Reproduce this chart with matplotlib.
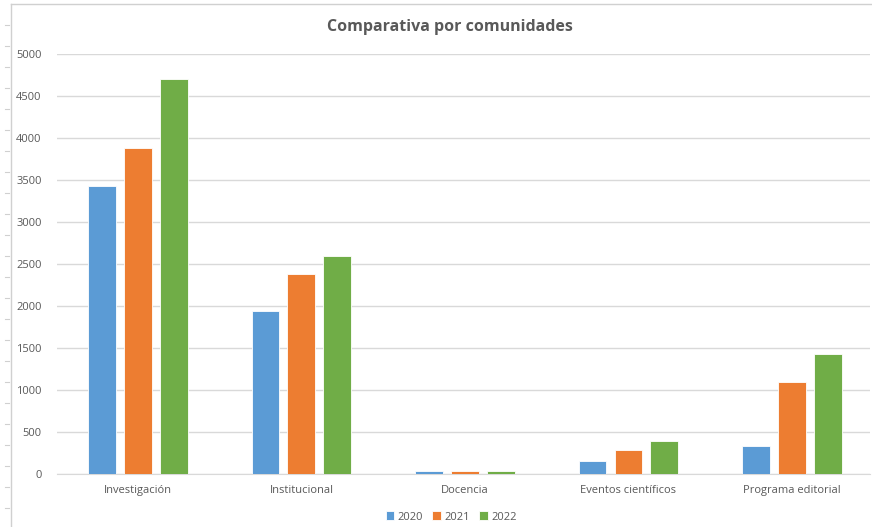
import numpy as np
import matplotlib.pyplot as plt
from matplotlib.lines import Line2D

# datos
categorias = ['Investigación', 'Institucional', 'Docencia',
              'Eventos científicos', 'Programa editorial']
anios = ['2020', '2021', '2022']
v2020 = [3430, 1940, 40, 160, 335]
v2021 = [3880, 2380, 40, 285, 1090]
v2022 = [4700, 2600, 40, 390, 1425]
colores = ['#5B9BD5', '#ED7D31', '#70AD47']
gris = '#595959'

plt.rcParams['font.family'] = ['Open Sans', 'DejaVu Sans']

fig = plt.figure(figsize=(8.72, 5.27), dpi=100, facecolor='w')
ax = fig.add_axes([57/872, 1 - 474/527, (870 - 57)/872, 420/527])

x = np.arange(len(categorias))
ancho = 0.171
paso = 0.22
for i, (serie, col) in enumerate(zip([v2020, v2021, v2022], colores)):
    ax.bar(x + (i - 1)*paso, serie, ancho, color=col, edgecolor='white',
           linewidth=0.6, label=anios[i], zorder=3)

ax.set_xlim(-0.495, 4.477)
ax.set_ylim(0, 5000)
ax.set_yticks(np.arange(0, 5001, 500))
ax.set_xticks(x)
ax.set_xticklabels(categorias)
ax.grid(axis='y', color='#d9d9d9', linewidth=1, zorder=0)
for s in ['top', 'right', 'left']:
    ax.spines[s].set_visible(False)
ax.spines['bottom'].set_color('#d9d9d9')
ax.tick_params(axis='both', length=0, colors=gris, labelsize=8)
ax.tick_params(axis='y', pad=11)
ax.tick_params(axis='x', pad=8)

fig.text(0.516, 1 - 27/527, 'Comparativa por comunidades', ha='center',
         va='center', fontsize=11.5, fontweight='bold', color=gris)

ax.legend(loc='center', bbox_to_anchor=(451/872, 1 - 517/527),
          bbox_transform=fig.transFigure, ncol=3, frameon=False,
          fontsize=8, handlelength=0.8, handleheight=0.8,
          handletextpad=0.3, columnspacing=0.8, labelcolor=gris)

# borde de la hoja
fig.add_artist(Line2D([11/872, 11/872], [0, 1 - 4/527], color='#d0d0d0',
                      linewidth=1, transform=fig.transFigure))
fig.add_artist(Line2D([11/872, 1], [1 - 4/527, 1 - 4/527], color='#d0d0d0',
                      linewidth=1, transform=fig.transFigure))
for yy in np.arange(25, 527, 21):
    fig.add_artist(Line2D([5/872, 9/872], [1 - yy/527, 1 - yy/527],
                          color='#d0d0d0', linewidth=0.8,
                          transform=fig.transFigure))

plt.savefig('out.png', dpi=100, facecolor='w')
